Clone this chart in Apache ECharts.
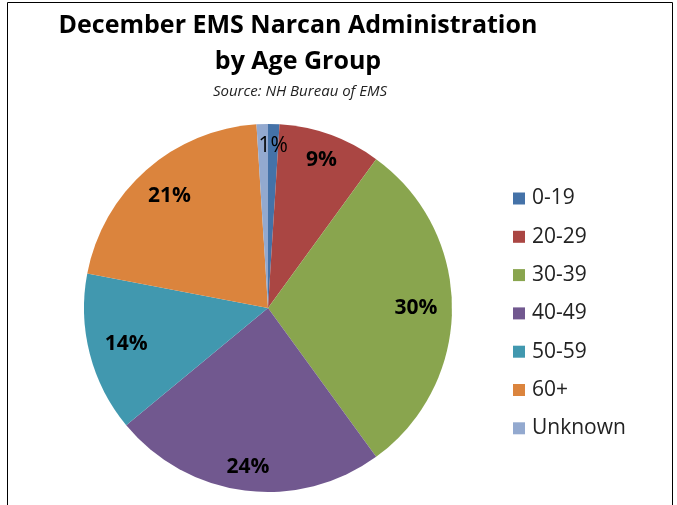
<!DOCTYPE html>
<html>
<head>
<meta charset="utf-8">
<script src="https://cdn.jsdelivr.net/npm/echarts@6/dist/echarts.min.js"></script>
<style>
  html, body { margin: 0; padding: 0; background: #fff; }
  #chart { width: 677px; height: 505px; }
</style>
</head>
<body>
<div id="chart"></div>
<script>
const categories = ['0-19', '20-29', '30-39', '40-49', '50-59', '60+', 'Unknown'];
const percents = [1, 9, 30, 24, 14, 21, 1];
const colors = ['#4472A8', '#AA4643', '#89A54E', '#71588F', '#4198AF', '#DB843D', '#93A9CF'];

const chart = echarts.init(document.getElementById('chart'));
const font = '"Open Sans", Lato, sans-serif';
const R = 184;
const RING_MID = 150;

const sliceData = categories.map((name, i) => ({
  name, value: percents[i], itemStyle: { color: colors[i] }
}));

// Excel keeps each label box a fixed gap inside the rim, so push labels
// along their mid-angle depending on how the box faces the edge
const total = percents.reduce((a, b) => a + b, 0);
let cum = 0;
const labelData = categories.map((name, i) => {
  const mid = (cum + percents[i] / 2) / total * Math.PI * 2;
  cum += percents[i];
  const dx = Math.sin(mid), dy = -Math.cos(mid);
  const halfW = String(percents[i]).length * 7.5 + 10, halfH = 10;
  const want = R - 14 - (Math.abs(dx) * halfW + Math.abs(dy) * halfH);
  const shift = want - RING_MID;
  const label = { offset: [dx * shift, dy * shift] };
  if (i === 0) label.fontWeight = 'normal';
  if (i === 6) label.show = false;
  return { name, value: percents[i], label };
});

chart.setOption({
  animation: false,
  color: colors,
  title: [
    {
      text: 'December EMS Narcan Administration\nby Age Group',
      left: 293, top: 3, textAlign: 'center',
      textStyle: { fontFamily: font, fontSize: 25, fontWeight: 'bold', color: '#000', lineHeight: 36 }
    },
    {
      text: 'Source: NH Bureau of EMS',
      left: 295, top: 79, textAlign: 'center',
      textStyle: { fontFamily: font, fontSize: 15, fontStyle: 'italic', fontWeight: 'normal', color: '#222' }
    }
  ],
  legend: {
    orient: 'vertical',
    left: 508, top: 183,
    itemWidth: 12, itemHeight: 12, itemGap: 17.3,
    icon: 'rect',
    data: categories,
    textStyle: { fontFamily: font, fontSize: 21, color: '#222', padding: [0, 0, 0, 2] }
  },
  graphic: [{
    type: 'rect',
    shape: { x: 7.5, y: 2.5, width: 665, height: 520 },
    style: { fill: 'none', stroke: '#000', lineWidth: 1 },
    silent: true
  }],
  series: [
    {
      type: 'pie',
      center: [268, 308], radius: [0, R],
      startAngle: 90, clockwise: true,
      label: { show: false }, labelLine: { show: false },
      data: sliceData
    },
    {
      type: 'pie',
      center: [268, 308], radius: [RING_MID * 2 - R, R],
      startAngle: 90, clockwise: true, silent: true,
      itemStyle: { color: 'rgba(0,0,0,0)' },
      emphasis: { disabled: true },
      label: {
        show: true, position: 'inside',
        formatter: p => p.value + '%',
        fontFamily: font, fontSize: 21, fontWeight: 'bold', color: '#000'
      },
      labelLine: { show: false },
      data: labelData
    }
  ]
});
</script>
</body>
</html>
